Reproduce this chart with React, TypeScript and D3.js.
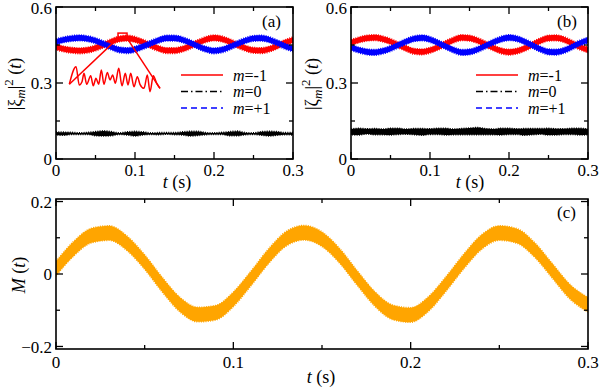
import React from 'react';
import * as d3 from 'd3';

// time grid (s) the curves are read at
const T = [0, 0.01, 0.02, 0.03, 0.04, 0.05, 0.06, 0.07, 0.08, 0.09, 0.1, 0.11, 0.12, 0.13, 0.14, 0.15,
  0.16, 0.17, 0.18, 0.19, 0.2, 0.21, 0.22, 0.23, 0.24, 0.25, 0.26, 0.27, 0.28, 0.29, 0.3];

// panel (a) |xi_m|^2 centre of each noisy band
const redA = [0.442, 0.434, 0.429, 0.427, 0.43, 0.438, 0.45, 0.463, 0.474, 0.477, 0.472, 0.461, 0.448, 0.436, 0.428, 0.428,
  0.434, 0.446, 0.46, 0.472, 0.478, 0.474, 0.463, 0.449, 0.437, 0.429, 0.428, 0.434, 0.446, 0.46, 0.47];
const blueA = [0.463, 0.471, 0.476, 0.478, 0.475, 0.467, 0.455, 0.442, 0.431, 0.428, 0.433, 0.444, 0.457, 0.469, 0.477, 0.477,
  0.471, 0.459, 0.445, 0.433, 0.427, 0.431, 0.442, 0.456, 0.468, 0.476, 0.477, 0.471, 0.459, 0.445, 0.435];
const blackA = [0.101, 0.1, 0.101, 0.1, 0.101, 0.1, 0.101, 0.1, 0.1, 0.101, 0.1, 0.101, 0.1, 0.1, 0.101, 0.1,
  0.101, 0.1, 0.101, 0.1, 0.1, 0.101, 0.1, 0.101, 0.1, 0.1, 0.101, 0.1, 0.101, 0.1, 0.1];
// half-width of the fast oscillation around each band
const redANoise = 0.011;
const blueANoise = 0.011;
const blackANoise = [0.006, 0.006, 0.004, 0.003, 0.004, 0.008, 0.01, 0.008, 0.003, 0.006, 0.009, 0.006, 0.003, 0.004, 0.003, 0.004,
  0.006, 0.009, 0.008, 0.004, 0.003, 0.004, 0.008, 0.009, 0.004, 0.003, 0.007, 0.009, 0.007, 0.004, 0.005];

// panel (b) |zeta_m|^2
const redB = [0.46, 0.47, 0.477, 0.479, 0.474, 0.464, 0.45, 0.436, 0.425, 0.423, 0.429, 0.441, 0.456, 0.47, 0.479, 0.477,
  0.468, 0.454, 0.439, 0.427, 0.422, 0.426, 0.437, 0.452, 0.467, 0.477, 0.478, 0.471, 0.457, 0.442, 0.43];
const blueB = [0.44, 0.43, 0.423, 0.421, 0.426, 0.436, 0.45, 0.464, 0.475, 0.478, 0.472, 0.459, 0.444, 0.43, 0.421, 0.423,
  0.432, 0.446, 0.461, 0.473, 0.479, 0.475, 0.463, 0.448, 0.433, 0.423, 0.422, 0.429, 0.443, 0.458, 0.47];
const blackB = [0.107, 0.108, 0.109, 0.108, 0.107, 0.108, 0.109, 0.108, 0.108, 0.107, 0.108, 0.109, 0.108, 0.107, 0.108, 0.109,
  0.11, 0.108, 0.107, 0.108, 0.109, 0.108, 0.107, 0.108, 0.109, 0.108, 0.107, 0.108, 0.109, 0.108, 0.107];
const redBNoise = 0.011;
const blueBNoise = 0.011;
const blackBNoise = [0.011, 0.013, 0.01, 0.012, 0.011, 0.013, 0.012, 0.01, 0.012, 0.013, 0.011, 0.012, 0.013, 0.011, 0.012, 0.013,
  0.014, 0.012, 0.011, 0.013, 0.012, 0.011, 0.013, 0.012, 0.011, 0.013, 0.012, 0.011, 0.012, 0.013, 0.011];

// panel (c) M(t)
const magC = [0.015, 0.07, 0.106, 0.113, 0.085, 0.033, -0.03, -0.085, -0.112, -0.107, -0.07, -0.012, 0.05, 0.098, 0.114, 0.096,
  0.05, -0.012, -0.07, -0.106, -0.113, -0.083, -0.027, 0.035, 0.088, 0.113, 0.105, 0.066, 0.008, -0.05, -0.085];
const magCNoise = 0.02;

// inset of (a): zoom on the red curve near its maximum
const zoomBox = { t0: 0.0785, t1: 0.0899, v0: 0.477, v1: 0.497 };
const insetT = [0.07854, 0.07938, 0.07979, 0.08013, 0.08038, 0.08072, 0.08122, 0.08154, 0.08188, 0.08222, 0.08255, 0.08288,
  0.0833, 0.08364, 0.08397, 0.0843, 0.08473, 0.08514, 0.08555, 0.08589, 0.08623, 0.08664, 0.08706, 0.08739, 0.0879, 0.08831,
  0.08865, 0.08906, 0.08949, 0.0899];
const insetV = [0.4784, 0.4893, 0.478, 0.48, 0.4852, 0.4784, 0.4837, 0.4775, 0.4821, 0.4784, 0.4873, 0.4784, 0.4858, 0.4811,
  0.4842, 0.479, 0.4883, 0.4775, 0.4852, 0.478, 0.4852, 0.4769, 0.4831, 0.4784, 0.4759, 0.4842, 0.4738, 0.4837, 0.479, 0.4759];

// ticks
const tMajor = [0, 0.1, 0.2, 0.3];
const tMinor = [0.05, 0.15, 0.25];
const popMajor = [0, 0.3, 0.6];
const popMinor = [0.15, 0.45];
const mMajor = [-0.2, 0, 0.2];
const mMinor = [-0.1, 0.1];
const legendLabels = ['-1', '0', '+1'];

const txt = { fontFamily: 'Liberation Serif' };
const RED = '#ff0000';
const BLUE = '#0000ff';
const ORANGE = '#ffa500';

type Scale = d3.ScaleLinear<number, number>;

const Band = ({ x, y, center, noise, color }:
  { x: Scale; y: Scale; center: number[]; noise: number | number[]; color: string }) => {
  const hw = (i: number) => (Array.isArray(noise) ? noise[i] : noise);
  const area = d3.area<number>()
    .x((_, i) => x(T[i]))
    .y0((d, i) => y(d - hw(i)))
    .y1((d, i) => y(d + hw(i)))
    .curve(d3.curveMonotoneX);
  return (
    <path d={area(center) || ''} fill={color} stroke={color} strokeWidth={1.6} strokeDasharray="1 1.3" />
  );
};

const Frame = ({ id, x, y, yMajor, yMinor, labelDy }:
  { id: string; x: Scale; y: Scale; yMajor: number[]; yMinor: number[]; labelDy: number }) => {
  const [x0, x1] = x.range();
  const [yb, yt] = y.range();
  const maj = 7, mnr = 4;
  return (
    <g style={txt} fontSize={17} fill="#000">
      {tMajor.concat(tMinor).map((t, i) => {
        const len = i < tMajor.length ? maj : mnr;
        return (
          <g key={id + 'xt' + i} stroke="#000" strokeWidth={1.3}>
            <line x1={x(t)} x2={x(t)} y1={yb} y2={yb - len} />
            <line x1={x(t)} x2={x(t)} y1={yt} y2={yt + len} />
          </g>
        );
      })}
      {yMajor.concat(yMinor).map((v, i) => {
        const len = i < yMajor.length ? maj : mnr;
        return (
          <g key={id + 'yt' + i} stroke="#000" strokeWidth={1.3}>
            <line x1={x0} x2={x0 + len} y1={y(v)} y2={y(v)} />
            <line x1={x1} x2={x1 - len} y1={y(v)} y2={y(v)} />
          </g>
        );
      })}
      {tMajor.map((t) => (
        <text key={id + 'xl' + t} x={x(t)} y={yb + labelDy} textAnchor="middle">{d3.format('~g')(t)}</text>
      ))}
      {yMajor.map((v) => (
        <text key={id + 'yl' + v} x={x0 - 4} y={Math.max(y(v), 8)} dy="0.36em" textAnchor="end">{d3.format('~g')(v)}</text>
      ))}
      <rect x={x0} y={yt} width={x1 - x0} height={yb - yt} fill="none" stroke="#000" strokeWidth={1.6} />
    </g>
  );
};

const Legend = ({ x, y }: { x: number; y: number }) => {
  const styles = [
    { color: RED, dash: undefined },
    { color: '#000', dash: '7 3 1.5 3' },
    { color: BLUE, dash: '6 4' },
  ];
  return (
    <g style={txt} fontSize={16}>
      {legendLabels.map((lab, i) => (
        <g key={lab} transform={`translate(${x},${y + i * 16.5})`}>
          <line x1={0} x2={42} y1={0} y2={0} stroke={styles[i].color} strokeWidth={1.6} strokeDasharray={styles[i].dash} />
          <text x={52} y={5.5}>
            <tspan fontStyle="italic">m</tspan>={lab}
          </text>
        </g>
      ))}
    </g>
  );
};

const PopLabel = ({ cx, cy, greek }: { cx: number; cy: number; greek: string }) => (
  <text transform={`translate(${cx},${cy}) rotate(-90)`} textAnchor="middle" style={txt} fontSize={18}>
    |{greek}
    <tspan fontStyle="italic" fontSize={13} dy={4}>m</tspan>
    <tspan dy={-4}>|</tspan>
    <tspan fontSize={13} dy={-8}>2</tspan>
    <tspan dy={8}> (</tspan>
    <tspan fontStyle="italic">t</tspan>)
  </text>
);

const TimeLabel = ({ cx, y }: { cx: number; y: number }) => (
  <text x={cx} y={y} textAnchor="middle" style={txt} fontSize={18}>
    <tspan fontStyle="italic">t</tspan> (s)
  </text>
);

export default function App() {
  const tDomain = [0, 0.3];
  const xA = d3.scaleLinear().domain(tDomain).range([56, 293]);
  const xB = d3.scaleLinear().domain(tDomain).range([351, 588]);
  const xC = d3.scaleLinear().domain(tDomain).range([56, 588]);
  const yA = d3.scaleLinear().domain([0, 0.6]).range([159, 7]);
  const yB = d3.scaleLinear().domain([0, 0.6]).range([159, 7]);
  const yC = d3.scaleLinear().domain([-0.207, 0.207]).range([349, 199]);

  // inset scales
  const xI = d3.scaleLinear().domain([zoomBox.t0, zoomBox.t1]).range([69, 160]);
  const yI = d3.scaleLinear().domain([0.473, 0.491]).range([93, 64]);
  const insetLine = d3.line<number>().x((_, i) => xI(insetT[i])).y((d) => yI(d)).curve(d3.curveMonotoneX);
  const last = insetT.length - 1;

  return (
    <svg width={599} height={387} style={{ position: 'absolute', left: 0, top: 0, background: '#fff' }}>
      <defs>
        <clipPath id="clipA"><rect x={56} y={7} width={237} height={152} /></clipPath>
        <clipPath id="clipB"><rect x={351} y={7} width={237} height={152} /></clipPath>
        <clipPath id="clipC"><rect x={56} y={199} width={532} height={150} /></clipPath>
      </defs>

      {/* panel (a) */}
      <g clipPath="url(#clipA)">
        <Band x={xA} y={yA} center={redA} noise={redANoise} color={RED} />
        <Band x={xA} y={yA} center={blackA} noise={blackANoise} color="#000" />
        <Band x={xA} y={yA} center={blueA} noise={blueANoise} color={BLUE} />
      </g>
      <g stroke={RED} strokeWidth={1.5} fill="none">
        <rect x={xA(zoomBox.t0)} y={yA(zoomBox.v1)} width={xA(zoomBox.t1) - xA(zoomBox.t0)} height={yA(zoomBox.v0) - yA(zoomBox.v1)} />
        <line x1={xA(zoomBox.t0)} y1={yA(zoomBox.v0)} x2={xI(insetT[0])} y2={yI(insetV[0])} />
        <line x1={xA(zoomBox.t1)} y1={yA(zoomBox.v0)} x2={xI(insetT[last])} y2={yI(insetV[last])} />
        <path d={insetLine(insetV) || ''} strokeLinejoin="round" />
      </g>
      <Frame id="a" x={xA} y={yA} yMajor={popMajor} yMinor={popMinor} labelDy={16.5} />
      <Legend x={181} y={75} />
      <text x={262} y={27} style={txt} fontSize={17}>(a)</text>
      <PopLabel cx={21} cy={84} greek="ξ" />
      <TimeLabel cx={177} y={188} />

      {/* panel (b) */}
      <g clipPath="url(#clipB)">
        <Band x={xB} y={yB} center={redB} noise={redBNoise} color={RED} />
        <Band x={xB} y={yB} center={blackB} noise={blackBNoise} color="#000" />
        <Band x={xB} y={yB} center={blueB} noise={blueBNoise} color={BLUE} />
      </g>
      <Frame id="b" x={xB} y={yB} yMajor={popMajor} yMinor={popMinor} labelDy={16.5} />
      <Legend x={476} y={75} />
      <text x={557} y={27} style={txt} fontSize={17}>(b)</text>
      <PopLabel cx={318} cy={84} greek="ζ" />
      <TimeLabel cx={470} y={188} />

      {/* panel (c) */}
      <g clipPath="url(#clipC)">
        <Band x={xC} y={yC} center={magC} noise={magCNoise} color={ORANGE} />
      </g>
      <Frame id="c" x={xC} y={yC} yMajor={mMajor} yMinor={mMinor} labelDy={19} />
      <text x={557} y={218} style={txt} fontSize={17}>(c)</text>
      <text transform="translate(25,275) rotate(-90)" textAnchor="middle" style={txt} fontSize={18}>
        <tspan fontStyle="italic">M</tspan> (<tspan fontStyle="italic">t</tspan>)
      </text>
      <TimeLabel cx={321} y={383} />
    </svg>
  );
}
